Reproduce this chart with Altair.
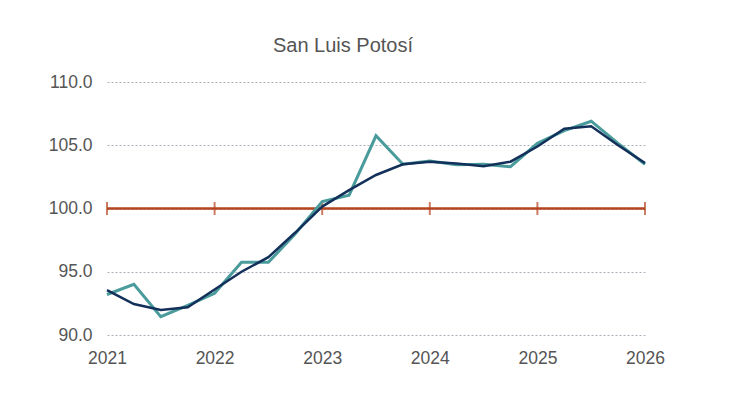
import altair as alt
import pandas as pd

quarters = [2021 + i * 0.25 for i in range(21)]
raw = [93.2, 94.0, 91.45, 92.35, 93.3, 95.75, 95.75, 98.0, 100.55, 101.05, 105.75,
       103.5, 103.75, 103.45, 103.5, 103.3, 105.15, 106.15, 106.9, 105.15, 103.5]
trend = [93.55, 92.45, 91.97, 92.2, 93.6, 95.0, 96.15, 98.1, 100.15, 101.45, 102.65,
         103.5, 103.7, 103.55, 103.35, 103.7, 104.9, 106.3, 106.5, 105.0, 103.6]
years = [2021, 2022, 2023, 2024, 2025, 2026]
ref_value = 100.0
y_ticks = [90, 95, 100, 105, 110]

df = pd.DataFrame({"t": quarters, "raw": raw, "trend": trend})
ref_df = pd.DataFrame({"t": years, "v": [ref_value] * len(years)})

font = "Liberation Sans"
x_enc = alt.X("t:Q", scale=alt.Scale(domain=[2021, 2026], nice=False),
              axis=alt.Axis(values=years, format="d", title=None, grid=False, ticks=False,
                            domain=False, labelFontSize=17.5, labelColor="#555555",
                            labelFont=font, labelPadding=14,
                            labelFlush=False))
y_scale = alt.Scale(domain=[90, 110], nice=False)
y_axis = alt.Axis(values=y_ticks, format=".1f", title=None, ticks=False, domain=False,
                  labelFontSize=17.5, labelColor="#555555", labelFont=font, labelPadding=15,
                  grid=True, gridColor="#aab2bb", gridDash=[2, 2], gridWidth=1)

ref_line = alt.Chart(ref_df).mark_line(color="#b5441f", strokeWidth=2.5).encode(
    x=x_enc, y=alt.Y("v:Q", scale=y_scale, axis=y_axis))
ref_ticks = alt.Chart(ref_df).mark_tick(color="#b5441f", orient="vertical", size=13,
                                        thickness=2).encode(
    x="t:Q", y="v:Q")
raw_line = alt.Chart(df).mark_line(color="#4a9b9b", strokeWidth=3).encode(
    x="t:Q", y="raw:Q")
trend_line = alt.Chart(df).mark_line(color="#13305a", strokeWidth=2.5).encode(
    x="t:Q", y="trend:Q")

chart = alt.layer(ref_line, ref_ticks, raw_line, trend_line).properties(
    width=538, height=253,
    background="white",
    title=alt.TitleParams("San Luis Potosí", fontSize=20, font=font, color="#555555",
                          fontWeight="normal", anchor="middle", offset=17, dx=-33),
    autosize=alt.AutoSizeParams(type="none"),
    padding={"left": 99, "top": 74, "right": 93, "bottom": 57},
).configure_view(stroke=None).configure_axisX(grid=False)

chart.save("out.html", embed_options={"renderer": "svg", "actions": False})
